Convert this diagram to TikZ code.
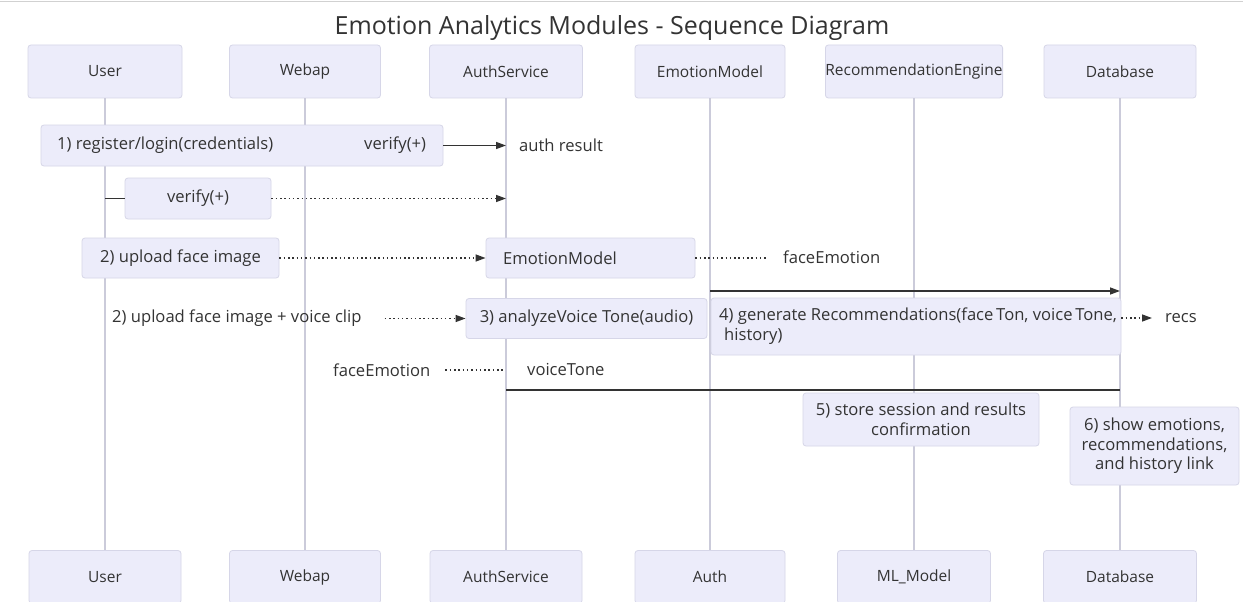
\documentclass[tikz,border=0pt]{standalone}
\usepackage{fontspec}
\setmainfont{Open Sans}
\usetikzlibrary{arrows.meta}
\definecolor{boxc}{HTML}{ECECFA}
\definecolor{bordc}{HTML}{D6D6E8}
\definecolor{lifec}{HTML}{CBCBDA}
\definecolor{txtc}{HTML}{333333}
\definecolor{arrc}{HTML}{333333}
\newcommand\fsN{\fontsize{16.6}{19.5}\selectfont}
\newcommand\fsA{\fontsize{15.5}{19}\selectfont}
\newcommand\fsT{\fontsize{25}{28}\selectfont}
\tikzset{
 actorbox/.style={draw=bordc, fill=boxc, line width=0.8pt, rounded corners=3pt, minimum height=53pt, inner sep=0pt, font=\fsA, text=txtc},
 notebox/.style={draw=bordc, fill=boxc, line width=0.8pt, rounded corners=3pt, inner sep=0pt, font=\fsN, text=txtc, align=center},
 lbl/.style={inner sep=0pt, font=\fsN, text=txtc},
 lifeline/.style={draw=lifec, line width=1.2pt},
 solidmsg/.style={draw=arrc, line width=1.3pt, -{Triangle[length=10pt,width=7pt]}},
 dotmsg/.style={draw=arrc, line width=1.3pt, dash pattern=on 1.5pt off 2.8pt, -{Triangle[length=10pt,width=7pt]}},
 dotline/.style={draw=arrc, line width=1.3pt, dash pattern=on 1.5pt off 2.8pt},
 plainline/.style={draw=arrc, line width=1.3pt},
}
\begin{document}
\begin{tikzpicture}[x=1pt,y=-1pt]
\useasboundingbox (0,0) rectangle (1243,602);
\fill[white] (0,0) rectangle (1243,602);
\draw[black!18, line width=1pt] (0,2) -- (1243,2);
\node[lbl, font=\fsT] (title) at (612,28) {Emotion Analytics Modules - Sequence Diagram};

% top actors
\node[actorbox, minimum width=154pt] (uT) at (105,71.5) {User};
\node[actorbox, minimum width=151pt] (wT) at (305,71.5) {Webap};
\node[actorbox, minimum width=153pt] (aT) at (506,71.5) {AuthService};
\node[actorbox, minimum width=150pt] (eT) at (710,71.5) {EmotionModel};
\node[actorbox, minimum width=154pt] (rT) at (914,71.5) {RecommendationEngine};
\node[actorbox, minimum width=152pt] (dT) at (1120,71.5) {Database};

% bottom actors
\node[actorbox, minimum width=152pt] (uB) at (105,577) {User};
\node[actorbox, minimum width=151pt] (wB) at (305,577) {Webap};
\node[actorbox, minimum width=152pt] (aB) at (506,577) {AuthService};
\node[actorbox, minimum width=150pt] (eB) at (710,577) {Auth};
\node[actorbox, minimum width=153pt] (rB) at (914,577) {ML\_Model};
\node[actorbox, minimum width=153pt] (dB) at (1120,577) {Database};

% lifelines
\draw[lifeline] (uT) -- (uB);
\draw[lifeline] (wT) -- (wB);
\draw[lifeline] (aT) -- (aB);
\draw[lifeline] (eT) -- (eB);
\draw[lifeline] (rT) -- (rB);
\draw[lifeline] (dT) -- (dB);

% row 1
\node[notebox, minimum width=402pt, minimum height=41pt] (n1) at (242,145.5) {};
\node[lbl, anchor=west] (n1a) at (57,145.5) {1) register/login(credentials)};
\node[lbl, anchor=west] (n1b) at (364,145.5) {verify(+)};
\coordinate (a1) at (506,145.5);
\draw[solidmsg] (n1.east) -- (a1);
\node[lbl, anchor=west] (ar) at (519,145.5) {auth result};

% row 2
\node[notebox, minimum width=146pt, minimum height=41pt] (n2) at (198,198.5) {verify(+)};
\coordinate (u2) at (105,198.5);
\draw[plainline] (u2) -- (n2.west);
\coordinate (a2) at (506,198.5);
\draw[dotmsg] (n2.east) -- (a2);

% row 3
\node[notebox, minimum width=197pt, minimum height=40pt] (n3) at (180.5,258) {2) upload face image};
\node[notebox, minimum width=209pt, minimum height=40pt] (em) at (590.5,258) {};
\node[lbl, anchor=west] (emt) at (503,258) {EmotionModel};
\draw[dotmsg] (n3.east) -- (em.west);
\coordinate (fe1) at (768,258);
\draw[dotline] (em.east) -- (fe1);
\node[lbl, anchor=west] (fe1t) at (783,257) {faceEmotion};

% solid arrow to database
\coordinate (s4a) at (710,291);
\coordinate (s4b) at (1120,291);
\draw[solidmsg] (s4a) -- (s4b);

% row 4
\node[lbl, anchor=west] (up2) at (112,318.5) {2) upload face image + voice clip};
\node[notebox, minimum width=241pt, minimum height=40pt] (n4) at (586.5,318.5) {3) analyzeVoice Tone(audio)};
\draw[dotmsg] ([xshift=23pt]up2.east) -- (n4.west);

\node[notebox, minimum width=410pt, minimum height=57pt] (n5) at (916,326.5) {};
\node[lbl, anchor=north west, align=left] (n5t) at (719,308) {4) generate Recommendations(face\,Ton, voice\,Tone,\\\hspace{5pt}history)};
\coordinate (rc) at (1152,318);
\draw[dotmsg] ([yshift=8.5pt]n5.east) -- (rc);
\node[lbl, anchor=west] (recs) at (1165,318) {recs};

% row 5
\node[lbl, anchor=west] (fe2) at (333,370) {faceEmotion};
\coordinate (fe2e) at (505,370);
\draw[dotline] ([xshift=15pt]fe2.east) -- (fe2e);
\node[lbl, anchor=west] (vt) at (527,369) {voiceTone};

\coordinate (l6a) at (506,390);
\coordinate (l6b) at (1120,390);
\draw[plainline] (l6a) -- (l6b);

% notes 5 and 6
\node[notebox, minimum width=236pt, minimum height=53pt] (n6) at (921,419.5) {5) store session and results\\confirmation};
\node[notebox, minimum width=169pt, minimum height=78pt] (n7) at (1154.5,446) {6) show emotions,\\recommendations,\\and history link};
\end{tikzpicture}
\end{document}
